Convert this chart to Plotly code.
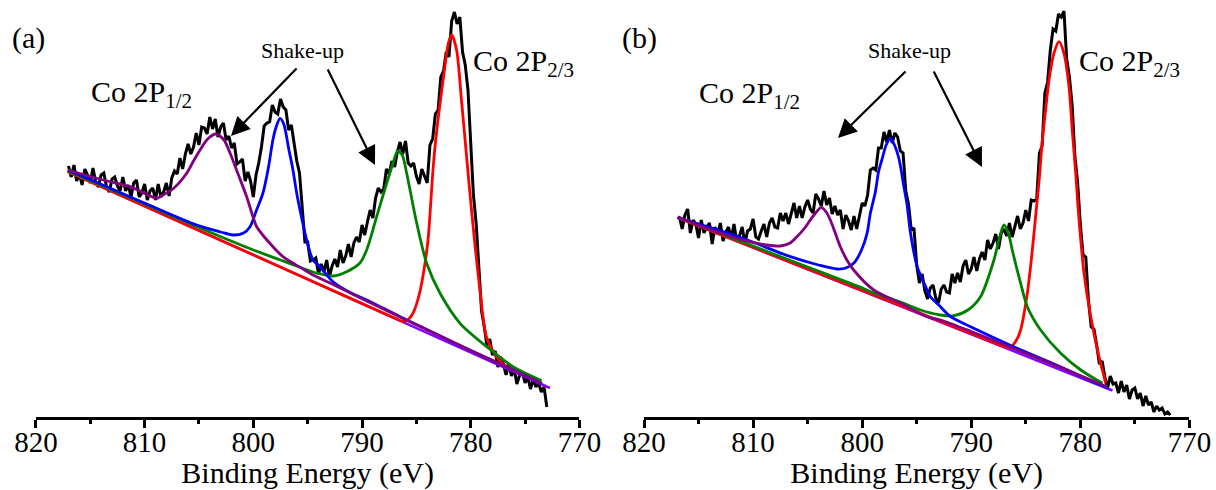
import numpy as np
import plotly.graph_objects as go

# ---------------- Panel (a) ----------------
be_a = np.round(np.arange(817.0, 772.99, -0.25), 2)   # binding-energy sampling grid
raw_a = [251, 240, 252, 236, 243, 232, 248, 242, 234, 249,
         235, 230, 242, 244, 230, 225, 238, 240, 231, 226,
         240, 226, 232, 220, 234, 237, 220, 224, 233, 217,
         226, 229, 217, 233, 220, 225, 234, 221, 239, 246,
         243, 259, 248, 263, 273, 263, 270, 284, 272, 290,
         289, 283, 300, 288, 298, 280, 290, 294, 277, 281,
         269, 274, 253, 255, 258, 236, 245, 236, 220, 242,
         254, 270, 291, 294, 295, 312, 305, 303, 318, 310,
         307, 287, 292, 272, 256, 244, 213, 175, 175, 156,
         157, 159, 143, 153, 145, 157, 140, 151, 158, 150,
         167, 154, 161, 173, 160, 174, 180, 175, 192, 182,
         195, 207, 199, 219, 229, 225, 228, 248, 243, 256,
         250, 265, 275, 263, 276, 254, 251, 254, 241, 233,
         248, 240, 234, 272, 278, 303, 307, 340, 346, 365,
         360, 396, 405, 393, 400, 365, 352, 327, 271, 222,
         194, 151, 106, 90, 71, 78, 62, 66, 50, 60,
         53, 42, 53, 41, 48, 33, 42, 45, 34, 40,
         28, 38, 30, 34, 25, 30, 10]

bg_a_E = [817.07, 772.71]
bg_a_I = [245.3, 29.0]

red_a_E = [817.07, 805, 795, 788, 786.9, 786.3, 785.9, 785.3, 784.7, 784.2, 783.9, 783.7,
           783.45, 783.15, 782.5, 782.05, 781.75, 781.3, 780.85, 780.35, 779.9, 779.15,
           778.55, 777.6, 777.0, 776.0, 775.0, 773.47]
red_a_I = [245.3, 186.5, 137.8, 103.7, 98.5, 95.8, 96.3, 104, 124, 154, 180, 210,
           250, 284, 340, 374, 382, 367, 317, 257, 204, 127,
           80, 60, 53, 46.5, 41.5, 34]

green_a_E = [817.07, 810, 805, 800, 797.5, 795.7, 794.2, 792.67, 791.41, 790.19, 789.57,
             788.65, 787.73, 787.2, 786.72, 786.3, 785.89, 785.58, 784.97, 784.05, 782.82,
             780.98, 778.53, 776.11, 773.47]
green_a_I = [246, 213, 189.5, 167, 157, 149.7, 144, 141, 145.3, 154, 167,
             200.3, 233.7, 252, 266, 262, 243.7, 227, 194, 153.7, 123.7,
             93.7, 70.3, 50.3, 36.3]

blue_a_E = [817.07, 813, 809.81, 805.21, 803, 801.87, 800.9, 800.3, 799.7, 799.11, 798.6,
            798.2, 797.9, 797.54, 797.2, 796.72, 796.4, 796.01, 795.89, 795.09, 794.51,
            793.86, 792.67, 791, 789.57, 786.5, 783, 780, 776, 773.47]
blue_a_I = [247, 228, 213, 192, 185, 182, 184, 190.3, 207, 224, 250,
            277, 290, 298.7, 293, 267, 250, 224, 217, 177, 157,
            150.3, 135.3, 124, 117, 100.3, 82, 66.5, 46.5, 33.5]

purple_a_E = [817.07, 814, 811.34, 808.89, 808.58, 807.3, 806.13, 805.5, 804.9, 804.2,
              803.43, 802.7, 802.14, 801.4, 800.61, 800.03, 799.69, 798.5, 797.27, 795.7,
              794.51, 792.94, 789.57, 786.5, 783, 780, 776, 773.47]
purple_a_I = [247, 237.5, 230.3, 218.7, 220.3, 229, 243.7, 256, 267, 278,
              283, 277, 264, 243, 220.3, 200.3, 190.3, 174, 160.3, 149.7,
              142, 134, 116, 100, 82, 66.5, 46.5, 33.5]

# ---------------- Panel (b) ----------------
be_b = np.round(np.arange(816.75, 771.74, -0.25), 2)
raw_b = [200, 188, 202, 208, 184, 197, 193, 179, 197, 184,
         190, 194, 173, 190, 183, 194, 176, 185, 190, 178,
         193, 176, 181, 190, 174, 186, 188, 198, 180, 178,
         186, 193, 180, 194, 199, 190, 189, 204, 196, 204,
         193, 204, 214, 199, 211, 199, 210, 217, 208, 204,
         223, 218, 211, 226, 212, 219, 203, 211, 202, 207,
         188, 202, 196, 187, 201, 188, 200, 214, 211, 222,
         247, 249, 247, 269, 269, 285, 275, 287, 274, 284,
         280, 266, 264, 226, 213, 187, 189, 152, 134, 143,
         126, 118, 129, 132, 119, 114, 128, 132, 125, 124,
         143, 134, 144, 135, 151, 157, 143, 148, 160, 146,
         158, 165, 157, 177, 168, 174, 183, 168, 184, 188,
         181, 194, 180, 192, 201, 188, 194, 207, 196, 217,
         216, 218, 264, 271, 324, 335, 367, 388, 386, 403,
         400, 406, 358, 340, 312, 261, 235, 193, 162, 160,
         116, 90, 88, 72, 53, 56, 40, 29, 41, 33,
         34, 24, 36, 25, 32, 18, 27, 29, 18, 24,
         11, 21, 12, 15, 5, 11, 7, 9, 3, 5, 2]

bg_b_E = [816.91, 777.05]
bg_b_I = [199.3, 26.5]

red_b_E = [816.91, 805, 795, 790, 788, 787, 786.4, 785.9, 785.47, 784.86, 784.4, 783.98,
           783.75, 783.48, 783.18, 782.87, 782.42, 781.96, 781.5, 781.04, 780.73, 780.42,
           780.19, 779.66, 779.04, 778.43, 777.67]
red_b_I = [199.3, 148.1, 105.1, 83.5, 74.9, 70.6, 69.7, 76, 87, 123.7, 167, 214,
           240, 277, 307, 337, 363.7, 375.3, 363.7, 330.3, 285, 243.7,
           207, 143.7, 100.3, 67, 33.7]

green_b_E = [816.91, 810, 805, 800, 798.94, 796.5, 794.66, 792.82, 791.6, 790.3, 789.15,
             787.92, 787.4, 787.0, 786.6, 786.24, 785.47, 784.86, 783.64, 781.8, 779.96, 777.97]
green_b_I = [200, 171, 150, 129, 124, 115, 107, 102, 101.3, 107, 120.3,
             157, 180, 192, 184, 167, 133.7, 110.3, 87, 63.7, 47, 33.7]

blue_b_E = [816.91, 811.18, 806.59, 804, 802.3, 801.5, 800.78, 800.1, 799.55, 799.25, 798.79,
            798.5, 798.17, 797.8, 797.41, 797.0, 796.6, 796.2, 795.88, 795.57, 794.96,
            794.66, 794.04, 793.74, 792.82, 791.9, 790.06, 786.12, 782, 777.51]
blue_b_I = [199.5, 179.7, 160.3, 152, 148, 149, 153.7, 166, 183.7, 203.7, 225,
            245, 258, 272, 278.7, 271, 257, 232, 212, 184, 150.3,
            142, 127, 120.3, 110.3, 100.3, 90.3, 70.3, 51, 28.7]

purple_b_E = [816.91, 814.24, 811.18, 808.73, 807.51, 806.6, 805.98, 805.3, 804.76, 804.2,
              803.75, 803.3, 802.92, 802.5, 802.0, 801.4, 800.78, 798.94, 796.49, 794.04,
              792.82, 790, 786, 782, 777.51]
purple_b_I = [200.3, 188.7, 177.7, 172, 171, 174, 180.3, 188.5, 197, 205,
              209.7, 205, 197, 185, 170.3, 157, 147, 127, 113.7, 100.3,
              97, 85.5, 68, 50.5, 30]

tick_vals = [820, 810, 800, 790, 780, 770]
tick_text = ["820", "810", "800", "790", "780", "770"]
x_title = "Binding Energy (eV)"

# ---------------- styling ----------------
W, H = 1216, 490
PLOT_H = 417
FONT = "Liberation Serif, Times New Roman, serif"
C_BLACK = "#000000"
C_RED = "#FF0000"
C_GREEN = "#008000"
C_BLUE = "#0000FF"
C_PURPLE = "#800080"
C_BG = "#8A00FF"

fig = go.Figure()


def add_line(x, y, color, width, xa, ya, spline=False):
    line = dict(color=color, width=width)
    if spline:
        line.update(shape="spline", smoothing=0.8)
    fig.add_trace(go.Scatter(x=x, y=y, mode="lines", line=line, xaxis=xa, yaxis=ya,
                             showlegend=False, hoverinfo="skip"))


for xa, ya, be, raw, bgE, bgI, comps in [
    ("x", "y", be_a, raw_a, bg_a_E, bg_a_I,
     [(red_a_E, red_a_I, C_RED), (green_a_E, green_a_I, C_GREEN),
      (blue_a_E, blue_a_I, C_BLUE), (purple_a_E, purple_a_I, C_PURPLE)]),
    ("x2", "y2", be_b, raw_b, bg_b_E, bg_b_I,
     [(red_b_E, red_b_I, C_RED), (green_b_E, green_b_I, C_GREEN),
      (blue_b_E, blue_b_I, C_BLUE), (purple_b_E, purple_b_I, C_PURPLE)]),
]:
    add_line(be, raw, C_BLACK, 3, xa, ya)
    add_line(bgE, bgI, C_BG, 2.5, xa, ya)
    for cE, cI, col in comps:
        add_line(cE, cI, col, 2.8, xa, ya, spline=True)

axis_common = dict(
    range=[820, 770], showgrid=False, zeroline=False,
    showline=True, linecolor="black", linewidth=3,
    ticks="outside", ticklen=8, tickwidth=3, tickcolor="black",
    tickvals=tick_vals, ticktext=tick_text,
    tickfont=dict(family=FONT, size=29, color="black"),
    ticklabelstandoff=-11,
    minor=dict(dtick=5, ticks="outside", ticklen=4, tickwidth=3, tickcolor="black"),
    title=dict(text=x_title, font=dict(family=FONT, size=30, color="black"), standoff=12),
    automargin=False,
)
yaxis_common = dict(range=[0, PLOT_H], visible=False, showgrid=False, zeroline=False)


def px(x):
    return x / W


def py(y):
    return (PLOT_H - y) / PLOT_H


annots = []
# panel labels
for txt, cx in [("(a)", 28.5), ("(b)", 639.5)]:
    annots.append(dict(text=txt, x=px(cx), y=py(37.5), xref="paper", yref="paper",
                       xanchor="center", yanchor="middle", showarrow=False,
                       font=dict(family=FONT, size=30, color="black")))
# peak labels
for txt, lx, cy in [("Co 2P<sub>1/2</sub>", 89, 94), ("Co 2P<sub>2/3</sub>", 471, 63),
                    ("Co 2P<sub>1/2</sub>", 697, 95), ("Co 2P<sub>2/3</sub>", 1077, 63)]:
    annots.append(dict(text=txt, x=px(lx), y=py(cy), xref="paper", yref="paper",
                       xanchor="left", yanchor="middle", showarrow=False,
                       font=dict(family=FONT, size=30, color="black")))
for cx in [302, 909]:
    annots.append(dict(text="Shake-up", x=px(cx), y=py(50), xref="paper", yref="paper",
                       xanchor="center", yanchor="middle", showarrow=False,
                       font=dict(family=FONT, size=22, color="black")))
# arrows (tip, tail)
for (tx, ty), (sx, sy) in [((231, 136), (298, 67)), ((375, 165), (327, 68)),
                           ((838, 138), (907, 70)), ((982, 167), (933, 70))]:
    annots.append(dict(text="", x=px(tx), y=py(ty), xref="paper", yref="paper",
                       ax=sx - tx, ay=sy - ty, showarrow=True, arrowhead=2,
                       arrowsize=1.7, arrowwidth=2.2, arrowcolor="black", standoff=0))

fig.update_layout(
    width=W, height=H,
    margin=dict(l=0, r=0, t=0, b=H - PLOT_H, pad=0),
    paper_bgcolor="white", plot_bgcolor="white",
    showlegend=False,
    xaxis=dict(domain=[35.9 / W, 579.4 / W], anchor="y", **axis_common),
    xaxis2=dict(domain=[644.0 / W, 1189.4 / W], anchor="y2", **axis_common),
    yaxis=dict(domain=[0, 1], anchor="x", **yaxis_common),
    yaxis2=dict(domain=[0, 1], anchor="x2", **yaxis_common),
    annotations=annots,
    font=dict(family=FONT, color="black"),
)

fig.write_html("out.html")
